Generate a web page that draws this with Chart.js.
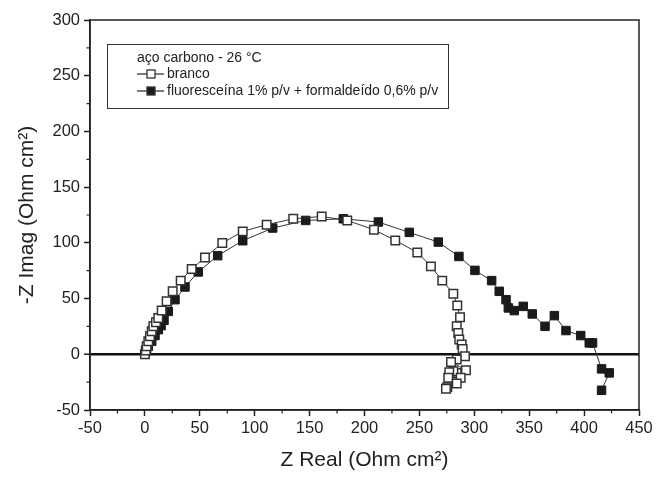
<!DOCTYPE html>
<html>
<head>
<meta charset="utf-8">
<script src="https://cdn.jsdelivr.net/npm/chart.js@4.4.0/dist/chart.umd.min.js"></script>
<style>
  body { margin: 0; background: #fff; }
  #wrap { width: 657px; height: 479px; }
</style>
</head>
<body>
<div id="wrap"><canvas id="nyquist" width="657" height="479"></canvas></div>
<script>
// --- dados ---
const brancoX = [0, 0.8, 1.6, 3.1, 4.6, 6.2, 7.7, 10.1, 12.2, 15.3, 19.8, 25.3, 32.6, 42.6, 54.7, 70.5, 89.1, 110.9, 135.1, 161.0, 184.3, 208.6, 228.0, 248.1, 260.5, 270.8, 280.9, 284.5, 287.0, 284.0, 285.4, 286.3, 288.5, 289.4, 291.5, 284.0, 278.8, 292.4, 284.0, 280.9, 277.2, 287.6, 276.3, 284.0, 275.4, 274.2];
const brancoY = [0, 3.5, 7.2, 11.7, 16.1, 20.6, 25.1, 28.7, 32.5, 39.2, 47.5, 56.5, 66.1, 76.5, 86.9, 99.8, 110.3, 116.3, 121.6, 123.7, 120.1, 111.8, 102.2, 91.4, 78.9, 66.1, 54.4, 43.7, 33.2, 25.1, 19.2, 13.2, 8.7, 4.8, -1.8, -4.7, -6.9, -14.3, -16.7, -15.2, -16.1, -21.1, -21.1, -26.3, -29.6, -31.0];

const fluorX = [0, 1.5, 3.1, 6.2, 9.2, 12.2, 14.7, 17.4, 21.3, 27.4, 36.5, 48.6, 66.3, 89.1, 116.4, 146.5, 180.7, 212.6, 240.8, 267.2, 286.0, 300.6, 315.8, 322.7, 328.9, 331.0, 336.4, 344.6, 352.8, 364.4, 372.9, 383.5, 396.9, 404.7, 407.7, 415.9, 422.9, 415.9];
const fluorY = [0, 3.5, 7.2, 11.7, 16.8, 22.1, 25.7, 30.5, 38.5, 49.0, 60.4, 73.9, 88.5, 101.9, 113.3, 120.1, 121.6, 118.7, 109.4, 100.7, 87.8, 75.3, 66.1, 56.5, 49.0, 41.6, 39.2, 43.0, 36.2, 25.1, 34.7, 21.3, 16.8, 10.2, 10.2, -13.1, -16.7, -32.3];

const xTicks = [-50, 0, 50, 100, 150, 200, 250, 300, 350, 400, 450];
const yTicks = [-50, 0, 50, 100, 150, 200, 250, 300];

const legendTitle = "aço carbono - 26 °C";
const seriesNames = ["branco", "fluoresceína 1% p/v + formaldeído 0,6% p/v"];

const INK = "#222";
Chart.defaults.font.family = "'Liberation Sans', Arial, Helvetica, sans-serif";
Chart.defaults.color = INK;

const toPoints = (xs, ys) => xs.map((x, i) => ({ x: x, y: ys[i] }));

// moldura, ticks menores e legenda
const framePlugin = {
  id: "frame",
  afterDraw(chart) {
    const ctx = chart.ctx;
    const a = chart.chartArea;
    const sx = chart.scales.x, sy = chart.scales.y;
    ctx.save();
    ctx.strokeStyle = INK;
    ctx.lineWidth = 1.5;
    ctx.strokeRect(a.left, a.top, a.right - a.left, a.bottom - a.top);

    // ticks menores
    ctx.lineWidth = 1.2;
    ctx.beginPath();
    for (let v = -25; v < 450; v += 50) {
      const px = sx.getPixelForValue(v);
      ctx.moveTo(px, a.bottom);
      ctx.lineTo(px, a.bottom + 3.5);
    }
    for (let v = -25; v < 300; v += 50) {
      const py = sy.getPixelForValue(v);
      ctx.moveTo(a.left, py);
      ctx.lineTo(a.left - 3.5, py);
    }
    ctx.stroke();

    // legenda
    const lx = a.left + 17, ly = a.top + 24;
    ctx.lineWidth = 1;
    ctx.strokeStyle = "#333";
    ctx.strokeRect(lx + 0.5, ly + 0.5, 341, 64);
    ctx.fillStyle = INK;
    ctx.font = "14px 'Liberation Sans', Arial, sans-serif";
    ctx.textBaseline = "middle";
    ctx.fillText(legendTitle, lx + 30, ly + 14);
    const rows = [ly + 30, ly + 47];
    rows.forEach((ry, i) => {
      ctx.strokeStyle = INK;
      ctx.lineWidth = 1.2;
      ctx.beginPath();
      ctx.moveTo(lx + 30, ry);
      ctx.lineTo(lx + 57, ry);
      ctx.stroke();
      ctx.fillStyle = i === 0 ? "#fff" : "#1a1a1a";
      ctx.fillRect(lx + 40, ry - 4, 8, 8);
      ctx.strokeStyle = "#333";
      ctx.lineWidth = 1.3;
      ctx.strokeRect(lx + 40, ry - 4, 8, 8);
      ctx.fillStyle = INK;
      ctx.fillText(seriesNames[i], lx + 60, ry);
    });
    ctx.restore();
  }
};

const ctx = document.getElementById("nyquist").getContext("2d");
new Chart(ctx, {
  type: "scatter",
  data: {
    datasets: [
      {
        label: seriesNames[0],
        data: toPoints(brancoX, brancoY),
        showLine: true,
        borderColor: "#333",
        borderWidth: 1,
        pointStyle: "rect",
        pointRadius: 6,
        pointBackgroundColor: "#fff",
        pointBorderColor: "#333",
        pointBorderWidth: 1.5
      },
      {
        label: seriesNames[1],
        data: toPoints(fluorX, fluorY),
        showLine: true,
        borderColor: "#333",
        borderWidth: 1,
        pointStyle: "rect",
        pointRadius: 6,
        pointBackgroundColor: "#1a1a1a",
        pointBorderColor: "#1a1a1a",
        pointBorderWidth: 1
      }
    ]
  },
  options: {
    responsive: false,
    animation: false,
    devicePixelRatio: 1,
    layout: { padding: { top: 20, right: 18, left: 0, bottom: 0 } },
    plugins: { legend: { display: false }, tooltip: { enabled: false } },
    scales: {
      x: {
        type: "linear",
        min: -50,
        max: 450,
        afterBuildTicks: (s) => { s.ticks = xTicks.map(v => ({ value: v })); },
        afterFit: (s) => { s.height = 69; },
        ticks: { font: { size: 16.5 }, color: INK, padding: 3, maxRotation: 0 },
        grid: { drawOnChartArea: false, tickLength: 6, tickColor: INK, tickWidth: 1.5 },
        border: { color: INK, width: 1.5 },
        title: {
          display: true,
          text: "Z Real (Ohm cm²)",
          font: { size: 21 },
          color: INK,
          padding: { top: 0, bottom: 6 }
        }
      },
      y: {
        type: "linear",
        min: -50,
        max: 300,
        afterBuildTicks: (s) => { s.ticks = yTicks.map(v => ({ value: v })); },
        afterFit: (s) => { s.width = 90; },
        ticks: { font: { size: 16.5 }, color: INK, padding: 4 },
        grid: {
          color: (c) => (c.tick && c.tick.value === 0 ? "#111" : "rgba(0,0,0,0)"),
          lineWidth: (c) => (c.tick && c.tick.value === 0 ? 2.5 : 1),
          tickLength: 6,
          tickColor: INK,
          tickWidth: 1.5
        },
        border: { color: INK, width: 1.5 },
        title: {
          display: true,
          text: "-Z Imag (Ohm cm²)",
          font: { size: 21 },
          color: INK,
          padding: { top: 15, bottom: 0 }
        }
      }
    }
  },
  plugins: [framePlugin]
});
</script>
</body>
</html>
